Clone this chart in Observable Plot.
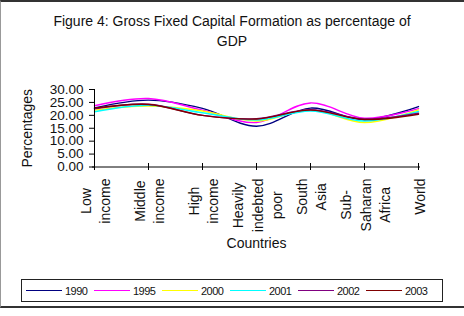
<!DOCTYPE html>
<html><head><meta charset="utf-8">
<script src="https://cdn.jsdelivr.net/npm/d3@7"></script>
<script src="https://cdn.jsdelivr.net/npm/@observablehq/plot@0.6"></script>
<style>
body{margin:0;background:#fff;font-family:"Liberation Sans",Arial,sans-serif;}
#frame{position:relative;width:464px;height:308px;border-top:2px solid #333;border-bottom:2px solid #333;border-left:1px solid #999;box-sizing:border-box;overflow:hidden;background:#fff}
#title{position:absolute;top:9px;left:-1px;width:464px;text-align:center;font-size:14px;line-height:20px;color:#111}
#chart{position:absolute;top:53px;left:-1px}
#legend{position:absolute;top:277px;left:20px;width:422px;height:23px;border:1px solid #222;box-sizing:border-box;display:flex;align-items:center;padding-left:4px;background:#fff}
.item{display:flex;align-items:center;width:68px;flex:none}
.swatch{width:36px;height:0;border-top:1.4px solid;margin-right:3px}
.lab{font-size:11px;letter-spacing:-0.5px;color:#111}
</style>
</head><body>
<div id="frame">
  <div id="title">Figure 4: Gross Fixed Capital Formation as percentage of<br>GDP</div>
  <div id="chart"></div>
  <div id="legend"></div>
</div>
<script>
const categories = ["Low income","Middle income","High income","Heavily indebted poor","South Asia","Sub-Saharan Africa","World"];
const tickLabels = ["Low\nincome","Middle\nincome","High\nincome","Heavily\nindebted\npoor","South\nAsia","Sub-\nSaharan\nAfrica","World"];
const years = ["1990","1995","2000","2001","2002","2003"];
const colors = ["#000080","#ff00ff","#ffff00","#00ffff","#800080","#800000"];
const yTicks = [0,5,10,15,20,25,30];
const v1990 = [22.9, 25.9, 22.7, 15.8, 22.8, 18.3, 23.4];
const v1995 = [23.7, 26.5, 22.0, 17.2, 24.8, 18.9, 22.6];
const v2000 = [22.0, 23.6, 21.7, 17.8, 22.1, 17.2, 22.1];
const v2001 = [21.4, 23.9, 21.0, 18.2, 21.7, 17.8, 21.5];
const v2002 = [22.5, 24.3, 20.0, 18.7, 22.2, 18.6, 20.8];
const v2003 = [22.8, 24.2, 20.0, 18.6, 22.0, 18.4, 20.4];
const series = [v1990, v1995, v2000, v2001, v2002, v2003];

const data = [];
years.forEach((yr, s) => categories.forEach((c, i) => data.push({year: yr, cat: c, value: series[s][i]})));

const ctx = document.createElement("canvas").getContext("2d");
ctx.font = "14px 'Liberation Sans'";
const longest = t => Math.max(...t.split("\n").map(l => ctx.measureText(l).width));

const font = "'Liberation Sans', Arial, sans-serif";
const labelMarks = categories.map((c, i) => Plot.text([c], {
  x: d => d, text: () => tickLabels[i], frameAnchor: "bottom",
  dy: 11.5 + longest(tickLabels[i]) / 2, rotate: -90,
  textAnchor: "middle", lineAnchor: "middle", lineHeight: 1.38,
  fontSize: 14, fill: "#111", fontFamily: font
}));

const chart = Plot.plot({
  width: 464, height: 208,
  marginLeft: 92, marginRight: 44, marginTop: 34, marginBottom: 96.5,
  style: {fontFamily: font, fontSize: "14px", color: "#111", background: "transparent"},
  x: {type: "point", domain: categories, padding: 0, label: null},
  y: {domain: [0, 30], label: null},
  color: {domain: years, range: colors},
  marks: [
    Plot.line(data, {x: "cat", y: "value", stroke: "year", curve: "catmull-rom", strokeWidth: 1.4}),
    Plot.ruleY([0], {stroke: "#000"}),
    Plot.ruleX([categories[0]], {stroke: "#000"}),
    Plot.axisY({ticks: yTicks, tickFormat: d3.format(".2f"), tickSize: 6, dx: 3, tickPadding: 6, label: null, stroke: "#000", fontSize: 13.5, fontFamily: font}),
    Plot.axisX({tickSize: 7, dy: -3.5, tickFormat: () => "", label: null, stroke: "#000"}),
    ...labelMarks,
    Plot.text(["Countries"], {frameAnchor: "bottom", dy: 81, text: d => d, fontSize: 14, fill: "#111", fontFamily: font}),
    Plot.text(["Percentages"], {frameAnchor: "left", dx: -64.5, rotate: -90, textAnchor: "middle", text: d => d, fontSize: 14, fill: "#111", fontFamily: font})
  ]
});
document.getElementById("chart").appendChild(chart);

const legend = document.getElementById("legend");
years.forEach((yr, i) => {
  const it = document.createElement("div"); it.className = "item";
  const sw = document.createElement("div"); sw.className = "swatch"; sw.style.borderTopColor = colors[i];
  const lb = document.createElement("span"); lb.className = "lab"; lb.textContent = yr;
  it.appendChild(sw); it.appendChild(lb); legend.appendChild(it);
});
</script>
</body></html>
